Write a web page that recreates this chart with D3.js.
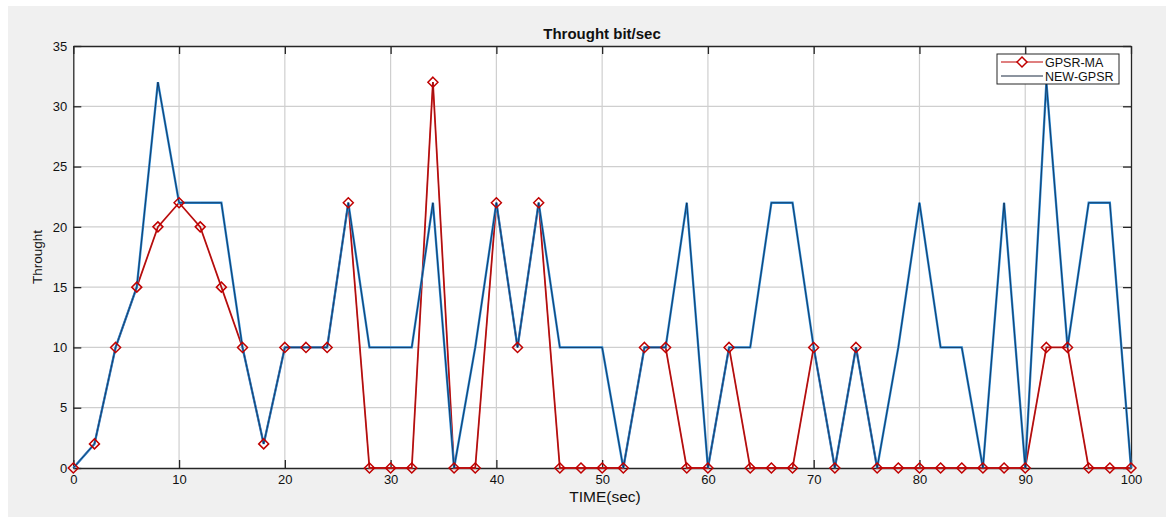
<!DOCTYPE html>
<html><head><meta charset="utf-8">
<script src="https://cdn.jsdelivr.net/npm/d3@7"></script>
<style>body{margin:0;background:#fff;}svg{display:block;font-family:"Liberation Sans",Arial,sans-serif;}</style>
</head><body>
<svg id="c" width="1166" height="517"></svg>
<script>
const times = d3.range(0, 101, 2);
const gpsrMA = [0,2,10,15,20,22,20,15,10,2,10,10,10,22,0,0,0,32,0,0,22,10,22,0,0,0,0,10,10,0,0,10,0,0,0,10,0,10,0,0,0,0,0,0,0,0,10,10,0,0,0];
const newGPSR = [0,2,10,15,32,22,22,22,10,2,10,10,10,22,10,10,10,22,0,10,22,10,22,10,10,10,0,10,10,22,0,10,10,22,22,10,0,10,0,10,22,10,10,0,22,0,32,10,22,22,0];
const xTicks = [0,10,20,30,40,50,60,70,80,90,100];
const yTicks = [0,5,10,15,20,25,30,35];
const seriesNames = ["GPSR-MA","NEW-GPSR"];
const title = "Throught bit/sec", xLabel = "TIME(sec)", yLabel = "Throught";

const svg = d3.select("#c");
const L=73.3, R=1131, T=46, B=468;
svg.append("rect").attr("x",8).attr("y",6).attr("width",1158).attr("height",511).attr("fill","#f0f0f0");
svg.append("rect").attr("x",L).attr("y",T).attr("width",R-L).attr("height",B-T).attr("fill","#fff");

const x = d3.scaleLinear().domain([0,100]).range([L,R]);
const y = d3.scaleLinear().domain([0,35]).range([B,T]);

// grid
const g = svg.append("g");
g.selectAll(".gx").data(xTicks.slice(1,-1)).join("line").attr("x1",d=>x(d)).attr("x2",d=>x(d)).attr("y1",T).attr("y2",B).attr("stroke","#cfcfcf").attr("stroke-width",1.2);
g.selectAll(".gy").data(yTicks.slice(1,-1)).join("line").attr("y1",d=>y(d)).attr("y2",d=>y(d)).attr("x1",L).attr("x2",R).attr("stroke","#cfcfcf").attr("stroke-width",1.2);

// axes
const fmt = d3.format("d");
const axB = svg.append("g").attr("transform",`translate(0,${B})`).call(d3.axisBottom(x).tickValues(xTicks).tickFormat(fmt).tickSizeInner(-8).tickSizeOuter(0).tickPadding(12));
const axL = svg.append("g").attr("transform",`translate(${L},0)`).call(d3.axisLeft(y).tickValues(yTicks).tickFormat(fmt).tickSizeInner(-8).tickSizeOuter(0).tickPadding(12));
const axT = svg.append("g").attr("transform",`translate(0,${T})`).call(d3.axisTop(x).tickValues(xTicks).tickFormat("").tickSizeInner(-8).tickSizeOuter(0));
const axR = svg.append("g").attr("transform",`translate(${R},0)`).call(d3.axisRight(y).tickValues(yTicks).tickFormat("").tickSizeInner(-8).tickSizeOuter(0));
[axB,axL,axT,axR].forEach(a=>{a.selectAll(".domain").attr("stroke","#262626").attr("stroke-width",1.3);a.selectAll(".tick line").attr("stroke","#262626").attr("stroke-width",1.3);a.selectAll("text").attr("fill","#111").attr("font-size",13).attr("font-family","Liberation Sans, Arial, sans-serif");});
axB.selectAll("text").attr("dy","0.71em").attr("y",7);
axL.selectAll("text").attr("x",-6);

const pts = times.map((t,i)=>({t,a:gpsrMA[i],b:newGPSR[i]}));
const lineA = d3.line().x(d=>x(d.t)).y(d=>y(d.a));
const lineB = d3.line().x(d=>x(d.t)).y(d=>y(d.b));

svg.append("path").datum(pts).attr("d",lineA).attr("fill","none").attr("stroke","#d81818").attr("stroke-width",1.8);
svg.append("path").datum(pts).attr("d",lineA).attr("fill","none").attr("stroke","#7a0e0e").attr("stroke-width",0.6);
svg.append("path").datum(pts).attr("d",lineB).attr("fill","none").attr("stroke","#2a8ad6").attr("stroke-width",2.3);
svg.append("path").datum(pts).attr("d",lineB).attr("fill","none").attr("stroke","#0b1d3a").attr("stroke-width",0.7);

function drawDiamond(sel,cx,cy){
  sel.append("path").attr("d",`M${cx},${cy-5} L${cx+5},${cy} L${cx},${cy+5} L${cx-5},${cy} Z`).attr("fill","none").attr("stroke","#c00000").attr("stroke-width",1.5);
}
const mk = svg.append("g");
pts.forEach(d=>drawDiamond(mk,x(d.t),y(d.a)));

// legend
const lg = svg.append("g");
lg.append("rect").attr("x",997).attr("y",54).attr("width",122).attr("height",30).attr("fill","#fff").attr("stroke","#262626").attr("stroke-width",1);
lg.append("line").attr("x1",1001).attr("x2",1043).attr("y1",62).attr("y2",62).attr("stroke","#c00000").attr("stroke-width",1.2);
lg.append("path").attr("d","M1022,57 L1027,62 L1022,67 L1017,62 Z").attr("fill","#fff").attr("stroke","#c00000").attr("stroke-width",1.5);
lg.append("line").attr("x1",1001).attr("x2",1043).attr("y1",76).attr("y2",76).attr("stroke","#1a2a40").attr("stroke-width",1.2);
lg.append("text").attr("x",1045).attr("y",66.5).text(seriesNames[0]).attr("font-size",12.5).attr("fill","#111");
lg.append("text").attr("x",1045).attr("y",80.5).text(seriesNames[1]).attr("font-size",12.5).attr("fill","#111");

svg.append("text").attr("x",602).attr("y",39).attr("text-anchor","middle").attr("font-weight","bold").attr("font-size",15).attr("fill","#111").text(title);
svg.append("text").attr("x",605).attr("y",502).attr("text-anchor","middle").attr("font-size",15.5).attr("fill","#111").text(xLabel);
svg.append("text").attr("transform","translate(42,257) rotate(-90)").attr("text-anchor","middle").attr("font-size",13.5).attr("fill","#111").text(yLabel);
</script>
</body></html>
